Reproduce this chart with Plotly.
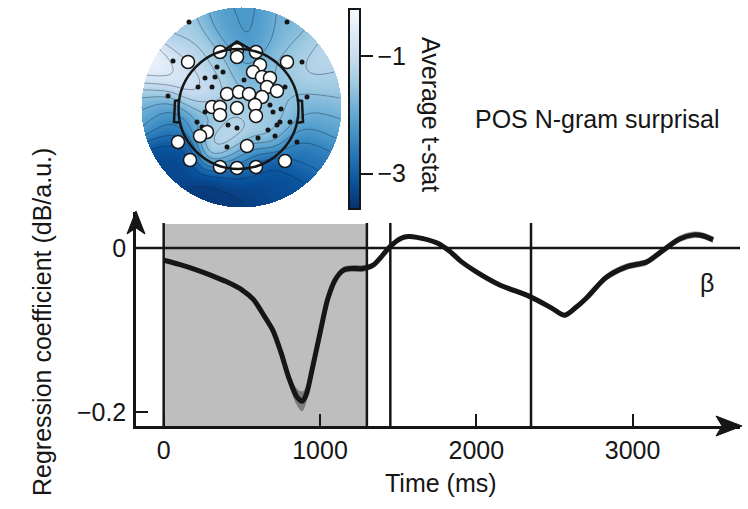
import numpy as np
import plotly.graph_objects as go

W, H = 748, 509
FONT = "Liberation Sans, Arial, sans-serif"
INK = "#161616"

# ---- Regression time course (beta) for POS N-gram surprisal ----
time_ms = [0, 100, 200, 300, 400, 500, 575, 650, 700, 750, 800, 850, 885, 910, 950,
           1000, 1050, 1100, 1150, 1200, 1275, 1340, 1400, 1450, 1520, 1565, 1620,
           1750, 1830, 1900, 2000, 2150, 2340, 2480, 2565, 2640, 2710, 2830, 2960,
           3090, 3180, 3300, 3390, 3450, 3515]
beta = [-0.015, -0.020, -0.026, -0.033, -0.041, -0.051, -0.063, -0.085, -0.101, -0.127,
        -0.158, -0.181, -0.187, -0.180, -0.148, -0.104, -0.062, -0.038, -0.027, -0.025,
        -0.025, -0.021, -0.009, 0.002, 0.012, 0.014, 0.013, 0.006, -0.004, -0.016,
        -0.029, -0.045, -0.059, -0.073, -0.082, -0.072, -0.060, -0.036, -0.023,
        -0.017, -0.005, 0.011, 0.016, 0.015, 0.010]
beta_sem = [0.002, 0.002, 0.002, 0.002, 0.002, 0.002, 0.002, 0.003, 0.003, 0.004,
            0.007, 0.010, 0.012, 0.010, 0.006, 0.003, 0.003, 0.003, 0.004, 0.004,
            0.004, 0.003, 0.002, 0.002, 0.002, 0.002, 0.002, 0.002, 0.002, 0.002,
            0.003, 0.003, 0.003, 0.003, 0.003, 0.003, 0.003, 0.004, 0.004,
            0.004, 0.004, 0.004, 0.004, 0.004, 0.004]

window_ms = [0, 1300]                 # shaded analysis window
event_lines_ms = [0, 1300, 1450, 2350]
x_ticks = [0, 1000, 2000, 3000]
y_ticks = [-0.2, 0]
y_ticktext = ["\u22120.2", "0"]

# ---- Scalp topography: average t-stat read at anchor positions (head units) ----
topo_u = [0.00, 0.40, 0.75, 0.85, -0.85, -0.55, -0.20, 0.10, -0.50, -0.30, -0.25,
          0.00, 0.10, 0.30, 0.45, 0.30, -0.15, -0.35, -0.70, -0.65, -0.20, 0.10,
          0.40, 0.60, 0.75, 0.00, -0.90, 0.55, -0.45]
topo_v = [0.90, 0.80, 0.45, 0.20, 0.35, 0.75, 0.80, 0.70, 0.22, 0.20, 0.42,
          0.10, 0.30, 0.35, 0.10, -0.15, -0.35, -0.10, -0.10, -0.50, -0.85, -0.90,
          -0.75, -0.40, -0.10, -0.55, 0.05, 0.60, 0.50]
topo_t = [-2.3, -1.8, -1.0, -1.5, -0.3, -1.4, -2.0, -2.3, -0.5, -1.0, -1.7,
          -1.3, -2.2, -1.4, -1.6, -1.4, -0.6, -1.9, -2.7, -3.3, -3.5, -3.4,
          -3.2, -2.7, -2.0, -2.9, -1.8, -1.6, -1.0]

# electrodes (head units): significant sensors and the remaining sensors
sig_u = [-0.21, -0.04, 0.15, -0.53, 0.46, -0.04, 0.19, 0.12, 0.21, 0.29, 0.26, 0.36,
         0.21, -0.14, -0.02, 0.08, -0.29, -0.21, -0.04, 0.14, -0.21, 0.15, -0.34,
         -0.41, -0.63, 0.06, -0.51, -0.21, -0.04, 0.15, 0.44]
sig_v = [0.55, 0.57, 0.55, 0.45, 0.45, 0.50, 0.42, 0.35, 0.30, 0.29, 0.20, 0.16,
         0.10, 0.13, 0.15, 0.13, 0.00, 0.00, -0.01, 0.02, -0.08, -0.09, -0.25,
         -0.29, -0.35, -0.39, -0.53, -0.60, -0.61, -0.60, -0.54]
oth_u = [-0.52, 0.46, -0.68, 0.61, -0.73, 0.66, -0.36, -0.26, -0.18, -0.29, -0.43,
         -0.24, 0.32, 0.27, 0.36, 0.39, 0.34, 0.17, 0.56, 0.49, -0.39, -0.44, -0.14,
         -0.36, -0.13, -0.04, 0.29, 0.03, 0.40, 0.44]
oth_v = [0.85, 0.85, 0.46, 0.45, 0.11, 0.10, 0.29, 0.30, 0.35, 0.20, 0.20, 0.40,
         -0.05, -0.23, -0.18, -0.15, -0.29, -0.31, -0.35, -0.15, -0.20, -0.15, -0.40,
         -0.05, -0.18, -0.21, 0.02, 0.27, -0.02, 0.20]

t_range = [-3.6, -0.2]
cbar_ticks = [-1, -3]
cbar_ticktext = ["\u22121", "\u22123"]


def px(x):
    return x / W


def py(y):
    return 1 - y / H


# smooth scalp field from the anchor values (Gaussian-kernel weighting)
g = np.linspace(-1, 1, 201)
GU, GV = np.meshgrid(g, g)
au, av, at = np.array(topo_u), np.array(topo_v), np.array(topo_t)
d2 = (GU[..., None] - au) ** 2 + (GV[..., None] - av) ** 2
wts = np.exp(-d2 / (2 * 0.17 ** 2))
Z = (wts * at).sum(-1) / wts.sum(-1)
Z[GU ** 2 + GV ** 2 > 1.0] = np.nan

tm = np.array(time_ms)
b = np.array(beta)
s = np.array(beta_sem)

fig = go.Figure()

# ---- main time-course panel ----
fig.add_trace(go.Scatter(x=tm, y=b + s, mode="lines", line=dict(width=0, shape="spline"),
                         hoverinfo="skip", showlegend=False))
fig.add_trace(go.Scatter(x=tm, y=b - s, mode="lines", line=dict(width=0, shape="spline"),
                         fill="tonexty", fillcolor="rgba(70,70,70,0.55)",
                         hoverinfo="skip", showlegend=False))
fig.add_trace(go.Scatter(x=tm, y=b, mode="lines",
                         line=dict(color=INK, width=5, shape="spline", smoothing=0.8),
                         showlegend=False))

# ---- topography inset ----
fig.add_trace(go.Heatmap(
    x=g, y=g, z=Z, xaxis="x2", yaxis="y2",
    colorscale="Blues", reversescale=True, zmin=t_range[0], zmax=t_range[1],
    hoverinfo="skip",
    colorbar=dict(
        x=px(349), xanchor="left", xref="paper", xpad=0,
        y=py(109), yanchor="middle", ypad=0,
        lenmode="pixels", len=200, thicknessmode="pixels", thickness=11,
        outlinewidth=2, outlinecolor=INK,
        tickvals=cbar_ticks, ticktext=cbar_ticktext, ticks="outside",
        ticklen=12, tickwidth=1.5, tickcolor=INK,
        tickfont=dict(family=FONT, size=25, color=INK),
    ),
))
fig.add_trace(go.Contour(
    x=g, y=g, z=Z, xaxis="x2", yaxis="y2", showscale=False,
    contours=dict(start=-3.4, end=-0.4, size=0.3, coloring="none"),
    line=dict(color="rgba(20,30,50,0.55)", width=0.7),
    hoverinfo="skip",
))
fig.add_trace(go.Scatter(x=oth_u, y=oth_v, mode="markers", xaxis="x2", yaxis="y2",
                         marker=dict(size=5, color=INK), hoverinfo="skip", showlegend=False))
fig.add_trace(go.Scatter(x=sig_u, y=sig_v, mode="markers", xaxis="x2", yaxis="y2",
                         marker=dict(size=13, color="white", line=dict(color=INK, width=1.5)),
                         hoverinfo="skip", showlegend=False))

shapes = []
# shaded window
shapes.append(dict(type="rect", xref="x", yref="y", x0=window_ms[0], x1=window_ms[1],
                   y0=-0.2171, y1=0.0293, fillcolor="#bebebe", line=dict(width=0),
                   layer="below"))
# zero line
shapes.append(dict(type="line", xref="paper", yref="y", x0=px(136), x1=px(740), y0=0, y1=0,
                   line=dict(color=INK, width=2.5)))
for xv in event_lines_ms:
    shapes.append(dict(type="line", xref="x", yref="y", x0=xv, x1=xv, y0=-0.2171,
                       y1=0.0305, line=dict(color=INK, width=2.5)))
# axis arrowheads
ya = f"M {px(136)} {py(211)} L {px(145)} {py(234)} L {px(136)} {py(228)} L {px(127)} {py(234)} Z"
xa = f"M {px(742)} {py(426)} L {px(716)} {py(416)} L {px(722)} {py(426)} L {px(716)} {py(436)} Z"
for p in (ya, xa):
    shapes.append(dict(type="path", xref="paper", yref="paper", path=p,
                       fillcolor=INK, line=dict(color=INK, width=1)))

# head outline, nose and ears on the topography
hc_u, hc_v, hr = -0.025, -0.02, 0.60
shapes.append(dict(type="circle", xref="x2", yref="y2", x0=hc_u - hr, x1=hc_u + hr,
                   y0=hc_v - hr, y1=hc_v + hr, line=dict(color=INK, width=2.5)))
shapes.append(dict(type="path", xref="x2", yref="y2",
                   path="M -0.16 0.575 L -0.04 0.655 L 0.10 0.575",
                   line=dict(color=INK, width=2.5)))
shapes.append(dict(type="path", xref="x2", yref="y2",
                   path="M -0.61 0.07 L -0.66 0.06 L -0.67 -0.15 L -0.60 -0.16",
                   line=dict(color=INK, width=2.5)))
shapes.append(dict(type="path", xref="x2", yref="y2",
                   path="M 0.56 0.07 L 0.61 0.06 L 0.62 -0.15 L 0.55 -0.16",
                   line=dict(color=INK, width=2.5)))

tf = dict(family=FONT, size=25, color=INK)


def label(text, x, y, angle=0):
    return dict(text=text, x=px(x), y=py(y), xref="paper", yref="paper",
                xanchor="center", yanchor="middle", textangle=angle,
                showarrow=False, font=tf)


annotations = [
    label("Regression coefficient (dB/a.u.)", 42, 322, -90),
    label("Time (ms)", 441, 483),
    label("POS N-gram surprisal", 597, 119),
    label("\u03b2", 707, 283),
    label("Average t-stat", 431, 114, 90),
]

fig.update_layout(
    width=W, height=H, margin=dict(l=0, r=0, t=0, b=0),
    paper_bgcolor="white", plot_bgcolor="rgba(0,0,0,0)", showlegend=False,
    font=dict(family=FONT, size=25, color=INK),
    xaxis=dict(domain=[px(136), px(740)], range=[-177, 3687], anchor="y",
               showline=True, linecolor=INK, linewidth=2.5, mirror=False,
               ticks="inside", ticklen=12, tickwidth=2, tickcolor=INK,
               tickvals=x_ticks, tickfont=tf, ticklabelstandoff=0,
               showgrid=False, zeroline=False, fixedrange=True),
    yaxis=dict(domain=[py(426), py(212)], range=[-0.2171, 0.0439], anchor="x",
               showline=True, linecolor=INK, linewidth=2.5,
               ticks="inside", ticklen=12, tickwidth=2, tickcolor=INK,
               tickvals=y_ticks, ticktext=y_ticktext, tickfont=tf, ticklabelstandoff=2,
               showgrid=False, zeroline=False, fixedrange=True),
    xaxis2=dict(domain=[px(141), px(341)], range=[-1, 1], anchor="y2", visible=False),
    yaxis2=dict(domain=[py(207), py(7)], range=[-1, 1], anchor="x2", visible=False),
    shapes=shapes, annotations=annotations,
)

fig.write_html("out.html")
